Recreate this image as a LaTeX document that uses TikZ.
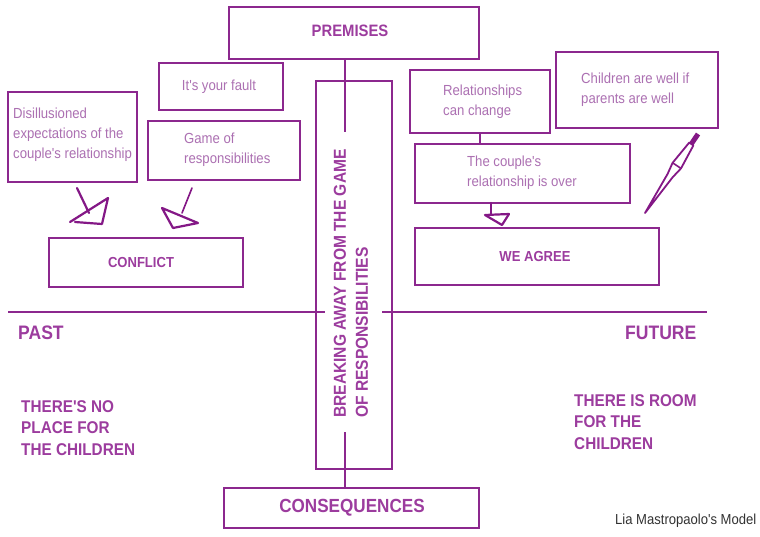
\documentclass[tikz,border=0pt]{standalone}
\usepackage{fontspec}
\setmainfont{Liberation Sans}
\newfontfamily\af[FakeStretch=0.9]{Liberation Sans}
\usetikzlibrary{calc}

\definecolor{edgepurple}{RGB}{140,40,142}
\definecolor{headtext}{RGB}{156,60,158}
\definecolor{softtext}{RGB}{172,112,178}
\definecolor{sketchpurple}{RGB}{132,24,134}
\definecolor{credit}{RGB}{50,50,50}

\tikzset{
  box/.style={draw=edgepurple, line width=2pt, rectangle, inner sep=0pt},
  link/.style={draw=edgepurple, line width=1.8pt},
  heading/.style={text=headtext, inner sep=0pt, font={\af\bfseries\fontsize{#1}{21}\selectfont}},
  heading/.default=14.5,
  note/.style={text=softtext, inner sep=0pt, anchor=west, align=left,
               font={\af\fontsize{14.6}{20}\selectfont}},
  era/.style={text=headtext, inner sep=0pt, anchor=west, align=left,
              font={\af\bfseries\fontsize{#1}{21.3}\selectfont}},
  sketch/.style={draw=sketchpurple, line width=2.2pt, line join=round, line cap=round},
}

\begin{document}
\begin{tikzpicture}[x=1pt, y=-1pt]
  \fill[white] (0,0) rectangle (760,536);
  \path[use as bounding box] (0,0) rectangle (760,536);

  % top and bottom frame
  \node[box, minimum width=250pt, minimum height=52pt] (prem) at (354,33) {};
  \node[heading=16.5] at (350,31) {PREMISES};
  \node[box, minimum width=255pt, minimum height=40pt] (cons) at (351.5,508) {};
  \node[heading=19] at (352,508) {CONSEQUENCES};

  % central column
  \node[box, minimum width=76pt, minimum height=388pt] (column) at (354,275) {};
  \node[rotate=90, anchor=west, inner sep=0pt, align=left, text=headtext,
        font={\af\bfseries\fontsize{17.3}{22}\selectfont}] at (351,418)
        {BREAKING AWAY FROM THE GAME\\OF RESPONSIBILITIES};

  \coordinate (stemtop) at (345,132);
  \coordinate (stembot) at (345,432);
  \draw[link] (prem.south -| stemtop) -- (stemtop);
  \draw[link] (stembot) -- (stembot |- cons.north);

  % time axis
  \coordinate (pastend) at (8,312);
  \coordinate (pastin) at (325,312);
  \coordinate (futin) at (382,312);
  \coordinate (futend) at (707,312);
  \draw[link] (pastend) -- (pastin);
  \draw[link] (futin) -- (futend);

  \node[era=19.5] at (18,333) {PAST};
  \node[era=19.5] at (625,333) {FUTURE};
  \node[era=17] at (21,428) {THERE'S NO\\PLACE FOR\\THE CHILDREN};
  \node[era=17] at (574,422) {THERE IS ROOM\\FOR THE\\CHILDREN};

  % past side
  \node[box, minimum width=124pt, minimum height=47pt] (fault) at (221,86.5) {};
  \node[note, anchor=center] at (219,87) {It's your fault};
  \node[box, minimum width=129pt, minimum height=90pt] (disill) at (72.5,137) {};
  \node[note] at (13,135) {Disillusioned\\expectations of the\\couple's relationship};
  \node[box, minimum width=152pt, minimum height=59pt] (game) at (224,150.5) {};
  \node[note] at (184,150) {Game of\\responsibilities};
  \node[box, minimum width=194pt, minimum height=49pt] (conflict) at (146,262.5) {};
  \node[heading=14.5] at (141,263) {CONFLICT};

  % hand-drawn arrows towards CONFLICT
  \draw[sketch] (77,188) -- (89,213);
  \draw[sketch] (70,222) -- (108,198) -- (102,224) -- (75,222);
  \draw[sketch, line width=1.6pt] (192,188) -- (182,213);
  \draw[sketch] (162,208) -- (198,223) -- (173,228) -- cycle;

  % future side
  \node[box, minimum width=140pt, minimum height=63pt] (change) at (480,101.5) {};
  \node[note] at (443,102) {Relationships\\can change};
  \node[box, minimum width=162pt, minimum height=76pt] (wellbeing) at (637,90) {};
  \node[note] at (581,90) {Children are well if\\parents are well};
  \node[box, minimum width=215pt, minimum height=59pt] (over) at (522.5,173.5) {};
  \node[note] at (467,173) {The couple's\\relationship is over};
  \node[box, minimum width=244pt, minimum height=57pt] (agree) at (537,256.5) {};
  \node[heading=14.5] at (535,257) {WE AGREE};

  \coordinate (joint) at (480,0);
  \draw[link, line width=1.6pt] (change.south -| joint) -- (over.north -| joint);

  % hand-drawn arrow towards WE AGREE
  \draw[sketch] (491,203) -- (491,214);
  \draw[sketch] (485,215) -- (509,214) -- (502,225) -- cycle;

  % pen-shaped arrow from the wellbeing box
  \draw[sketch, line width=5pt, line cap=butt] (698,134) -- (691.3,144);
  \draw[sketch, line width=1.8pt]
    (693.4,145.4) -- (681,168.4) -- (672.6,177.3) -- (645,213)
    -- (667.6,173.9) -- (672.6,162.8) -- (689.2,142.6) -- cycle;
  \draw[sketch, line width=1.6pt] (681,168.4) -- (672.6,162.8);

  % credit line
  \node[anchor=west, inner sep=0pt, text=credit,
        font={\af\fontsize{14.5}{17}\selectfont}] at (615,521) {Lia Mastropaolo's Model};
\end{tikzpicture}
\end{document}
